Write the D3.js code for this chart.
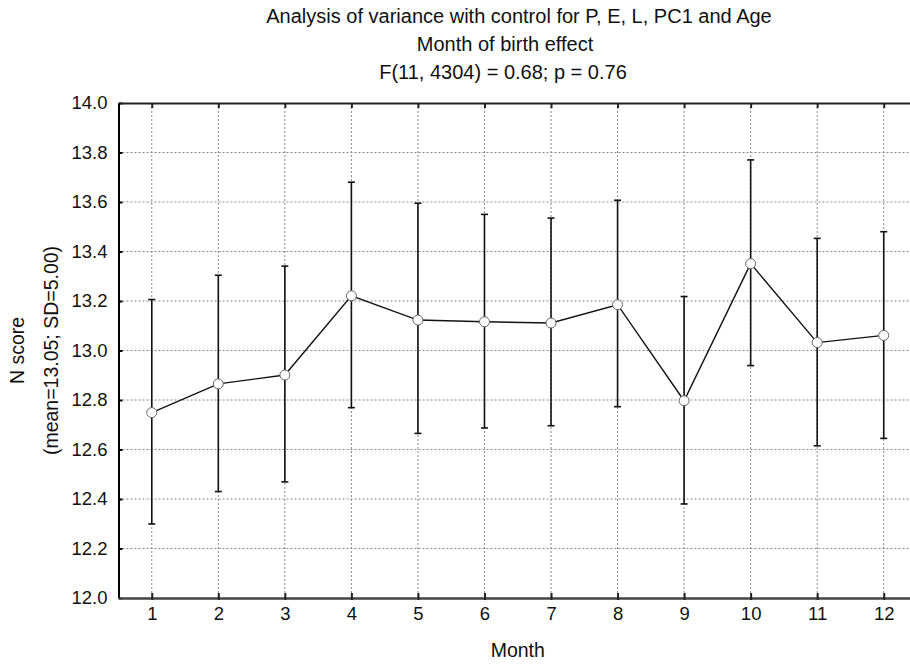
<!DOCTYPE html>
<html><head><meta charset="utf-8">
<script src="https://cdn.jsdelivr.net/npm/d3@7"></script>
<style>body{margin:0;background:#fff}svg{display:block;font-family:"Liberation Sans",Arial,Helvetica,sans-serif}</style>
</head><body><svg id="c" width="910" height="664"></svg>
<script>
const months = [1,2,3,4,5,6,7,8,9,10,11,12];
const means = [12.749,12.865,12.901,13.221,13.123,13.116,13.111,13.185,12.797,13.351,13.032,13.061];
const upper = [13.206,13.304,13.341,13.680,13.595,13.550,13.535,13.607,13.218,13.770,13.453,13.480];
const lower = [12.299,12.430,12.469,12.769,12.665,12.687,12.696,12.773,12.380,12.939,12.615,12.645];
const yTicks = [12.0,12.2,12.4,12.6,12.8,13.0,13.2,13.4,13.6,13.8,14.0];
const titles = ["Analysis of variance with control for P, E, L, PC1 and Age","Month of birth effect","F(11, 4304) = 0.68; p = 0.76"];
const xTitle = "Month";
const yTitle = ["N score","(mean=13.05; SD=5.00)"];

const FF = "Liberation Sans, Arial, sans-serif";
const svg = d3.select("#c");
const L=118.5, R=917, T=103, B=598;
const x = d3.scaleLinear().domain([0.5,12.5]).range([L,R]);
const y = d3.scaleLinear().domain([12,14]).range([B,T]);

// grid
svg.append("g").selectAll("line").data(yTicks.slice(1,-1)).join("line")
  .attr("x1",L).attr("x2",R).attr("y1",d=>y(d)).attr("y2",d=>y(d))
  .attr("stroke","#888").attr("stroke-width",1).attr("stroke-dasharray","2,2");
svg.append("g").selectAll("line").data(months).join("line")
  .attr("x1",d=>x(d)).attr("x2",d=>x(d)).attr("y1",T).attr("y2",B)
  .attr("stroke","#888").attr("stroke-width",1).attr("stroke-dasharray","2,2");

// axes
const yAx = svg.append("g").attr("transform",`translate(${L},0)`)
  .call(d3.axisLeft(y).tickValues(yTicks).tickFormat(d3.format(".1f")).tickSizeInner(-4).tickSizeOuter(0).tickPadding(11));
yAx.select(".domain").attr("stroke","#000").attr("stroke-width",2);
yAx.selectAll(".tick line").attr("stroke","#000").attr("stroke-width",2);
yAx.selectAll("text").attr("font-size",18.5).attr("fill","#111").attr("font-family",FF);

const xAx = svg.append("g").attr("transform",`translate(0,${B})`)
  .call(d3.axisBottom(x).tickValues(months).tickSizeInner(-5).tickSizeOuter(0).tickPadding(9));
xAx.select(".domain").attr("stroke","#444").attr("stroke-width",2.5);
xAx.selectAll(".tick line").attr("stroke","#222").attr("stroke-width",2).attr("y1",2);
xAx.selectAll("text").attr("font-size",18.5).attr("fill","#111").attr("font-family",FF);

const tAx = svg.append("g").attr("transform",`translate(0,${T})`)
  .call(d3.axisTop(x).tickValues(months).tickSizeInner(-5).tickSizeOuter(0).tickFormat(""));
tAx.select(".domain").attr("stroke","#222").attr("stroke-width",2);
tAx.selectAll(".tick line").attr("stroke","#222").attr("stroke-width",2);

// error bars
const eb = svg.append("g");
eb.selectAll("line.v").data(months).join("line").attr("class","v")
  .attr("x1",d=>x(d)).attr("x2",d=>x(d)).attr("y1",(d,i)=>y(upper[i])).attr("y2",(d,i)=>y(lower[i]))
  .attr("stroke","#111").attr("stroke-width",1.6);
eb.selectAll("line.u").data(months).join("line").attr("class","u")
  .attr("x1",d=>x(d)-3.5).attr("x2",d=>x(d)+3.5).attr("y1",(d,i)=>y(upper[i])).attr("y2",(d,i)=>y(upper[i]))
  .attr("stroke","#111").attr("stroke-width",1.6);
eb.selectAll("line.l").data(months).join("line").attr("class","l")
  .attr("x1",d=>x(d)-3.5).attr("x2",d=>x(d)+3.5).attr("y1",(d,i)=>y(lower[i])).attr("y2",(d,i)=>y(lower[i]))
  .attr("stroke","#111").attr("stroke-width",1.6);

// line
svg.append("path").datum(months.map((m,i)=>[m,means[i]]))
  .attr("d",d3.line().x(d=>x(d[0])).y(d=>y(d[1])))
  .attr("fill","none").attr("stroke","#111").attr("stroke-width",1.4);
svg.append("g").selectAll("circle").data(months).join("circle")
  .attr("cx",d=>x(d)).attr("cy",(d,i)=>y(means[i])).attr("r",5)
  .attr("fill","#fff").attr("stroke","#666").attr("stroke-width",1);

// titles
const titleX = [519,505,503];
svg.append("g").selectAll("text").data(titles).join("text")
  .attr("x",(d,i)=>titleX[i]).attr("y",(d,i)=>23+i*28).attr("text-anchor","middle")
  .attr("font-size",20).attr("fill","#111").attr("font-family",FF).text(d=>d);
svg.append("text").attr("x",(L+R)/2).attr("y",657).attr("text-anchor","middle")
  .attr("font-size",19.5).attr("fill","#111").attr("font-family",FF).text(xTitle);
svg.append("g").selectAll("text").data(yTitle).join("text")
  .attr("transform",(d,i)=>`translate(${17+i*34},${(T+B)/2}) rotate(-90)`)
  .attr("dominant-baseline","central")
  .attr("text-anchor","middle").attr("font-size",19.5).attr("fill","#111").attr("font-family",FF).text(d=>d);
</script></body></html>
